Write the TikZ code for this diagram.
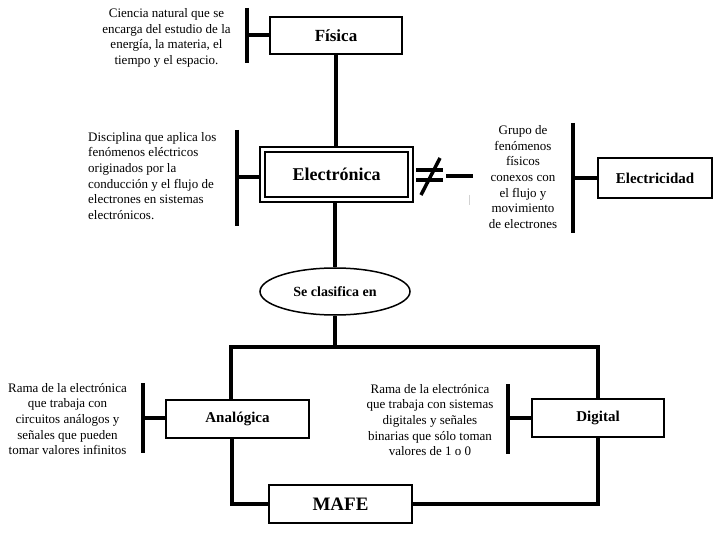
\documentclass[tikz,border=0pt]{standalone}
\usepackage{fontspec}
\setmainfont{Liberation Serif}
\usetikzlibrary{shapes.geometric}
\begin{document}
\begin{tikzpicture}[x=1pt,y=-1pt,
  box/.style={draw, line width=2pt, inner sep=0pt, font=\bfseries\fontsize{15}{18}\selectfont},
  conn/.style={line width=4.5pt},
  bar/.style={line width=4pt},
  sign/.style={line width=3.5pt},
  desc/.style={align=center, inner sep=0pt, font=\fontsize{13}{15.7}\selectfont}]
\useasboundingbox (0,0) rectangle (722,534);

% boxes
\node[box, minimum width=132pt, minimum height=37pt, font=\bfseries\fontsize{17}{20}\selectfont] (fis) at (336,35.5) {Física};
\node[box, minimum width=153pt, minimum height=55pt] (eleo) at (336.5,174.5) {};
\node[box, minimum width=143pt, minimum height=45pt, font=\bfseries\fontsize{18}{21}\selectfont] (ele) at (336.5,174.5) {Electrónica};
\node[box, minimum width=114pt, minimum height=40pt] (elec) at (655,178) {Electricidad};
\node[draw, ellipse, line width=1.5pt, minimum width=150pt, minimum height=47pt, inner sep=0pt, font=\bfseries\fontsize{14}{17}\selectfont] (cls) at (335,291.5) {Se clasifica en};
\node[box, minimum width=143pt, minimum height=38pt] (ana) at (237.5,419) {Analógica};
\node[box, minimum width=132pt, minimum height=38pt] (dig) at (598,418) {Digital};
\node[box, minimum width=143pt, minimum height=38pt, font=\bfseries\fontsize{19}{22}\selectfont] (mafe) at (340.5,504) {MAFE};

% descriptions
\node[desc] (tfis) at (166.5,38) {Ciencia natural que se\\encarga del estudio de la\\energía, la materia, el\\tiempo y el espacio.};
\node[desc, align=left, anchor=west] (tele) at (88,176) {Disciplina que aplica los\\fenómenos eléctricos\\originados por la\\conducción y el flujo de\\electrones en sistemas\\electrónicos.};
\node[desc] (telec) at (523,177) {Grupo de\\fenómenos\\físicos\\conexos con\\el flujo y\\movimiento\\de electrones};
\node[desc] (tana) at (67.5,419) {Rama de la electrónica\\que trabaja con\\circuitos análogos y\\señales que pueden\\tomar valores infinitos};
\node[desc] (tdig) at (430,420) {Rama de la electrónica\\que trabaja con sistemas\\digitales y señales\\binarias que sólo toman\\valores de 1 o 0};

% bars
\coordinate (fb1) at (247,8); \coordinate (fb2) at (247,63);
\draw[bar] (fb1) -- (fb2);
\draw[bar] (fis.west) -- (fis.west -| fb1);
\coordinate (eb1) at (237,130); \coordinate (eb2) at (237,226);
\draw[bar] (eb1) -- (eb2);
\draw[bar] (eleo.west |- 0,177) -- (eb1 |- 0,177);
\coordinate (cb1) at (573,123); \coordinate (cb2) at (573,233);
\draw[bar] (cb1) -- (cb2);
\draw[bar] (elec.west) -- (elec.west -| cb1);
\coordinate (ab1) at (143,383); \coordinate (ab2) at (143,453);
\draw[bar] (ab1) -- (ab2);
\draw[bar] (ana.west |- 0,418) -- (ab1 |- 0,418);
\coordinate (db1) at (508,384); \coordinate (db2) at (508,454);
\draw[bar] (db1) -- (db2);
\draw[bar] (dig.west) -- (dig.west -| db1);

% not equal sign
\coordinate (ne1) at (416,170); \coordinate (ne2) at (443,170);
\coordinate (ne3) at (416,180); \coordinate (ne4) at (443,180);
\coordinate (ne5) at (421,195); \coordinate (ne6) at (440,158);
\coordinate (nd1) at (446,176); \coordinate (nd2) at (473,176);
\draw[sign] (ne1) -- (ne2);
\draw[sign] (ne3) -- (ne4);
\draw[sign] (ne5) -- (ne6);
\draw[line width=4pt] (nd1) -- (nd2);
\coordinate (tk1) at (469,195); \coordinate (tk2) at (469,205);
\draw[gray!35, line width=1pt] (tk1) -- (tk2);

% connectors
\coordinate (split) at (335,347);
\coordinate (fl) at (231,347);
\coordinate (fr) at (598,347);
\draw[conn] (fis.south -| 336,0) -- (eleo.north -| 336,0);
\draw[conn] (eleo.south -| 335,0) -- (cls.north);
\draw[conn] (cls.south) -- (split);
\draw[conn] (ana.north -| fl) -- (fl) -- (fr) -- (dig.north -| fr);
\draw[conn] (ana.south -| 232,0) |- (mafe.west);
\draw[conn] (dig.south -| fr) |- (mafe.east);
\end{tikzpicture}
\end{document}
